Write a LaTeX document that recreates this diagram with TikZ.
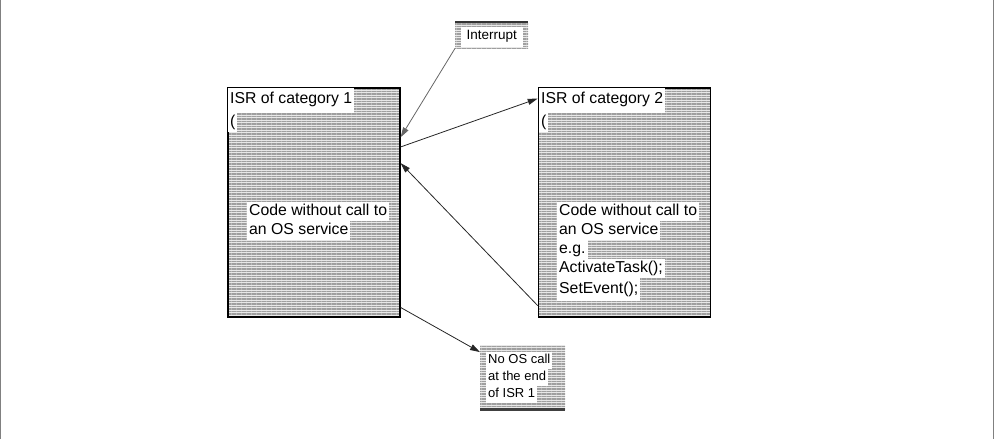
\documentclass[tikz,border=0pt]{standalone}
\usepackage{fontspec}
\setmainfont{Liberation Sans}
\usetikzlibrary{patterns.meta,arrows.meta,calc}
\begin{document}
\begin{tikzpicture}[x=1pt,y=-1pt,
  hatch/.style={preaction={fill=gray!18}, pattern={Lines[angle=0,distance=2.5pt,line width=1.1pt]}, pattern color=gray!75},
  isrbox/.style={hatch, draw=black, line width=1.6pt, anchor=north west, inner sep=0pt, minimum width=172pt, minimum height=229pt},
  smallbox/.style={hatch, draw=none, anchor=north west, inner sep=0pt},
  wl/.style={fill=white, anchor=north west, inner xsep=2pt, inner ysep=0pt, text height=11.5pt, text depth=3.5pt, minimum height=19pt, font=\fontsize{15.8}{18}\selectfont},
  ws/.style={fill=white, anchor=north west, inner xsep=2pt, inner ysep=0pt, text height=9.5pt, text depth=3pt, minimum height=17pt, font=\fontsize{13}{15}\selectfont},
  conn/.style={-{Triangle[length=10pt,width=6pt]}, line width=0.8pt, draw=black!85},
]
\useasboundingbox (0,0) rectangle (994,439);
\draw[gray, line width=1.2pt] (0.6,0) -- (0.6,439);
\draw[gray, line width=1.2pt] (993.4,0) -- (993.4,439);

% ISR category 1
\node[isrbox] (b1) at (227,87) {};
\node[wl, minimum height=25pt, text depth=5.5pt] (b1t) at (228,88) {ISR of category 1\hspace{9pt}};
\node[wl] (b1p) at (228,113) {(\hspace{5pt}};
\node[wl] (b1c1) at (247,202) {Code without call to\hspace{5pt}};
\node[wl] (b1c2) at (247,221) {an OS service\hspace{3pt}};

% ISR category 2
\node[isrbox] (b2) at (537.7,87) {};
\node[wl, minimum height=25pt, text depth=5.5pt] (b2t) at (539,88) {ISR of category 2\hspace{2pt}};
\node[wl] (b2p) at (539,113) {(\hspace{4pt}};
\node[wl] (b2c1) at (557,202) {Code without call to\hspace{4pt}};
\node[wl] (b2c2) at (557,221) {an OS service};
\node[wl] (b2c3) at (557,240) {e.g.};
\node[wl] (b2c4) at (557,259) {ActivateTask();};
\node[wl, minimum height=23pt] (b2c5) at (557,278) {SetEvent();};

% Interrupt box
\node[smallbox, minimum width=73pt, minimum height=26pt] (int) at (455,22) {};
\draw[line width=2.5pt, black!80] (int.north west) -- (int.north east);
\node[fill=white, inner sep=0pt, minimum width=62pt, minimum height=20pt, font=\fontsize{13.5}{15}\selectfont] (intt) at ($(int.center)+(0,1.5)$) {Interrupt};

% No OS call box
\node[smallbox, minimum width=85pt, minimum height=64pt] (nos) at (480,345) {};
\draw[line width=3pt, black!75] (nos.south west) -- (nos.south east);
\node[ws] (n1) at (486,352) {No OS call};
\node[ws] (n2) at (486,369) {at the end};
\node[ws] (n3) at (486,386) {of ISR 1};

% connectors
\draw[conn, draw=black!60] (int.south west) -- ($(b1.north east)!0.218!(b1.south east)$);
\draw[conn] ($(b1.north east)!0.26!(b1.south east)$) -- ($(b2.north west)!0.05!(b2.south west)$);
\draw[conn] ($(b2.north west)!0.948!(b2.south west)$) -- ($(b1.north east)!0.33!(b1.south east)$);
\draw[conn] ($(b1.north east)!0.956!(b1.south east)$) -- ($(nos.north west)!0.11!(nos.south west)$);
\end{tikzpicture}
\end{document}
